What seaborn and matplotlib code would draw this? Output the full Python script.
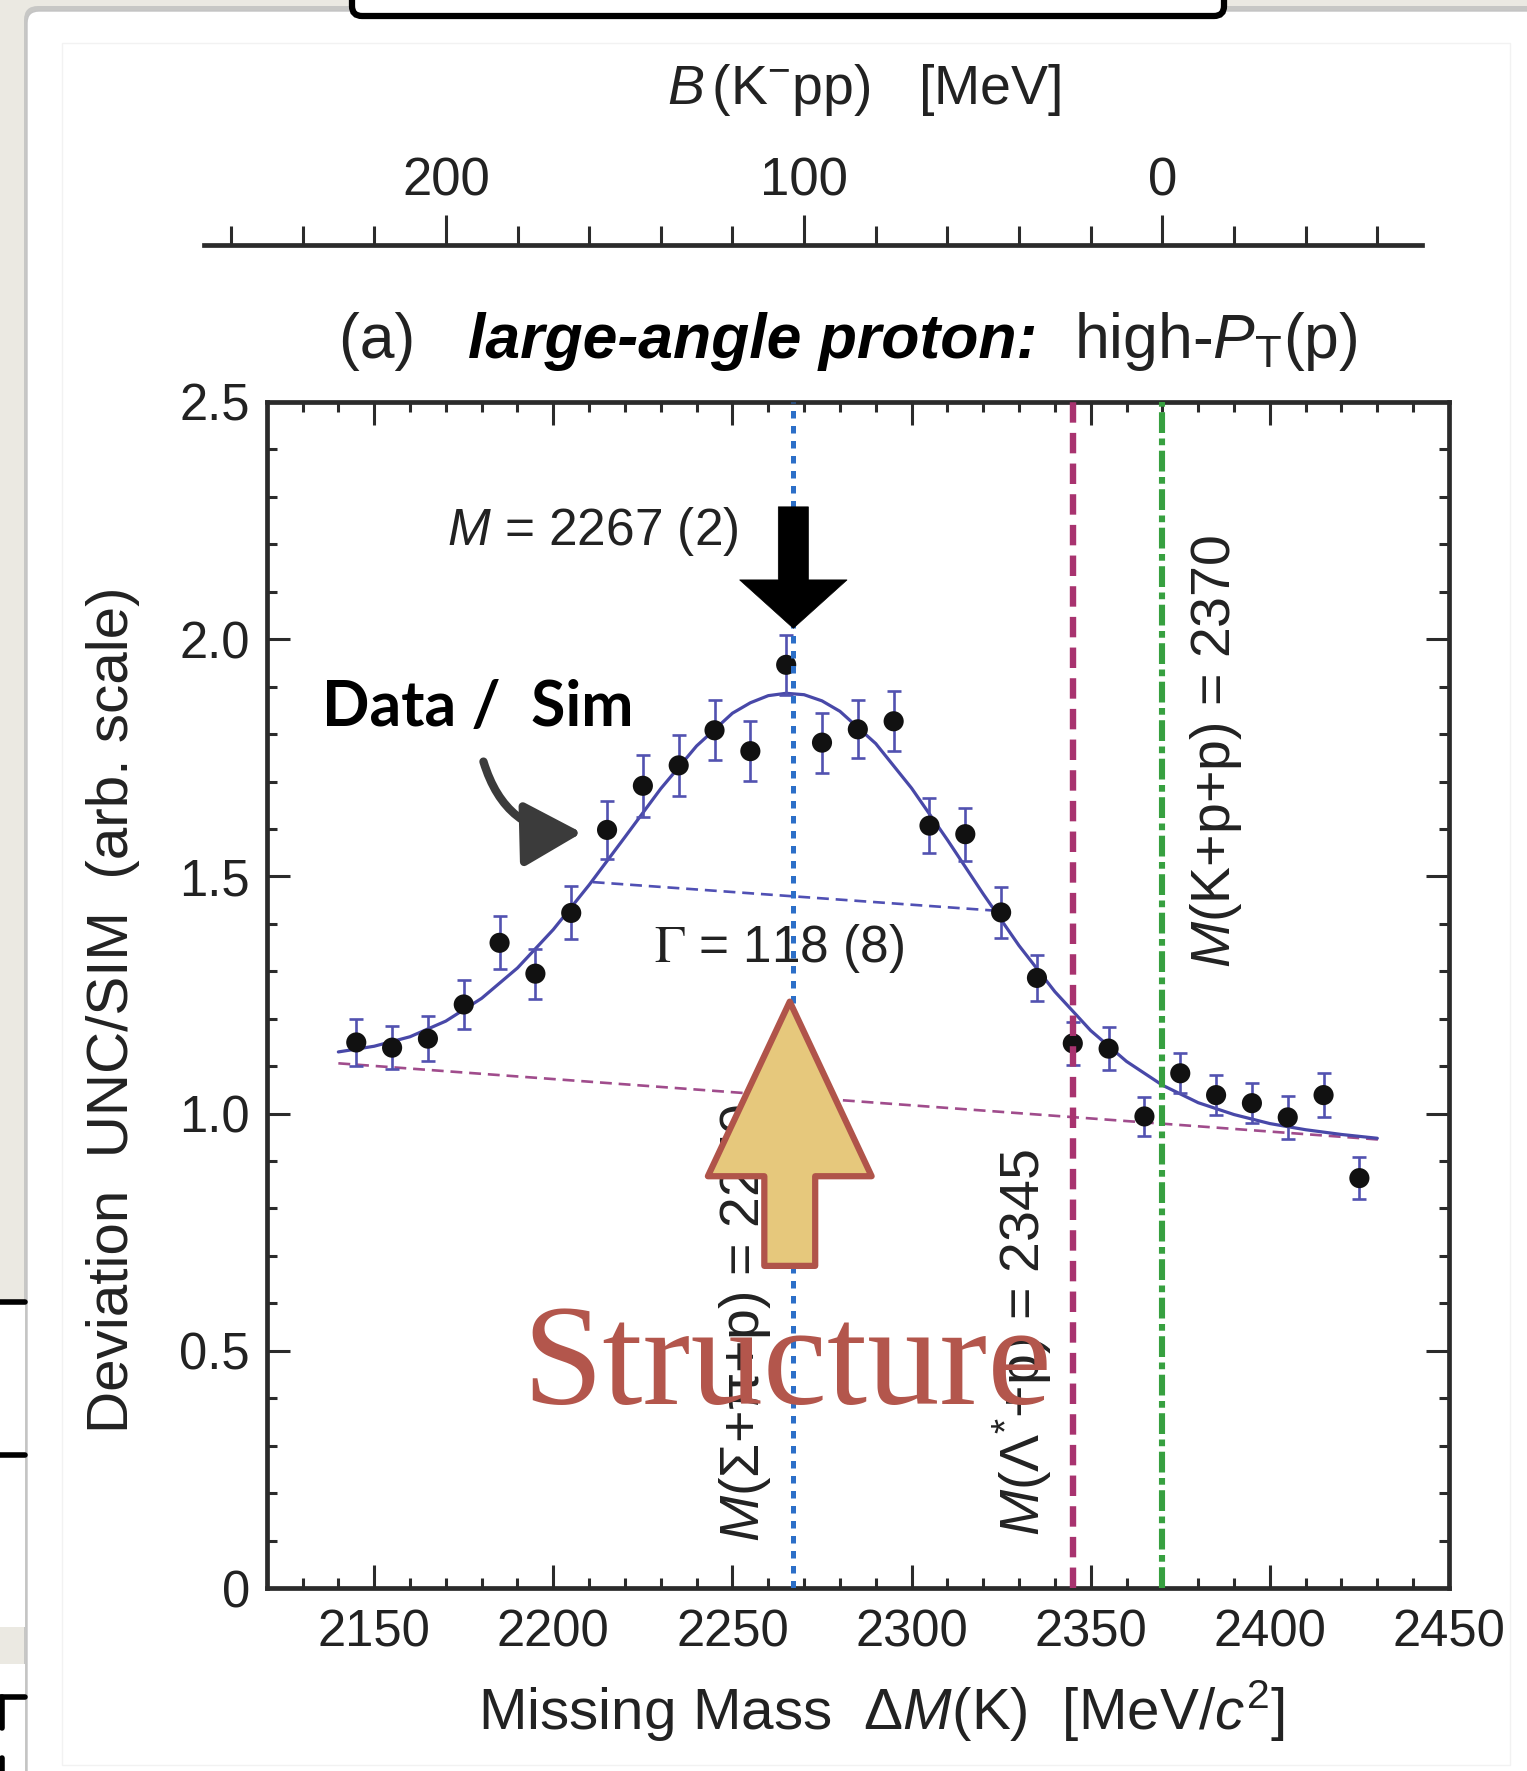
import numpy as np
import pandas as pd
import matplotlib
matplotlib.use("Agg")
import matplotlib.pyplot as plt
import seaborn as sns
from matplotlib.patches import FancyArrow, Rectangle, FancyBboxPatch
from matplotlib.offsetbox import TextArea, HPacker, AnchoredOffsetbox
from matplotlib.ticker import MultipleLocator

# ---------------- data ----------------
mass = [2145, 2155, 2165, 2175, 2185, 2195, 2205, 2215, 2225, 2235,
        2245, 2255, 2265, 2275, 2285, 2295, 2305, 2315, 2325, 2335,
        2345, 2355, 2365, 2375, 2385, 2395, 2405, 2415, 2425]
ratio = [1.150, 1.139, 1.158, 1.230, 1.360, 1.295, 1.423, 1.598, 1.691, 1.734,
         1.808, 1.764, 1.946, 1.782, 1.810, 1.827, 1.607, 1.589, 1.424, 1.286,
         1.148, 1.137, 0.994, 1.085, 1.039, 1.022, 0.992, 1.039, 0.864]
ratio_err = [0.049, 0.046, 0.048, 0.051, 0.056, 0.053, 0.056, 0.061, 0.065, 0.065,
             0.063, 0.063, 0.063, 0.063, 0.061, 0.063, 0.058, 0.056, 0.053, 0.049,
             0.046, 0.046, 0.042, 0.042, 0.042, 0.042, 0.046, 0.047, 0.044]

fit_mass = [2140, 2150, 2160, 2170, 2180, 2190, 2200, 2210, 2220, 2230,
            2240, 2250, 2255, 2260, 2265, 2270, 2275, 2280, 2290, 2300, 2310, 2320,
            2330, 2340, 2350, 2360, 2370, 2380, 2390, 2400, 2410, 2420, 2430]
fit_ratio = [1.130, 1.142, 1.162, 1.195, 1.243, 1.307, 1.388, 1.482, 1.583, 1.685,
             1.775, 1.844, 1.866, 1.881, 1.886, 1.883, 1.870, 1.848, 1.780, 1.686, 1.577, 1.463,
             1.354, 1.257, 1.175, 1.110, 1.060, 1.023, 0.998, 0.979, 0.966, 0.956, 0.948]

bg_mass = [2140, 2431]
bg_ratio = [1.106, 0.945]
halfmax_mass = [2211, 2323]
halfmax_ratio = [1.488, 1.428]

threshold_mass = [2267, 2345, 2370]
threshold_labels = [r"$M$(Σ+π+p) = 2270", r"$M$(Λ$^{*}$+p) = 2345", r"$M$(K+p+p) = 2370"]

kpp_threshold = 2370          # B(K-pp) = 2370 - M
b_ticks = [200, 100, 0]
x_ticks = [2150, 2200, 2250, 2300, 2350, 2400, 2450]
y_ticks = [0, 0.5, 1.0, 1.5, 2.0, 2.5]
y_tick_labels = ["0", "0.5", "1.0", "1.5", "2.0", "2.5"]

# ---------------- style ----------------
sns.set_style("ticks")
plt.rcParams["font.family"] = ["Liberation Sans", "DejaVu Sans"]
plt.rcParams["mathtext.fontset"] = "custom"
plt.rcParams["mathtext.rm"] = "Liberation Sans"
plt.rcParams["mathtext.it"] = "Liberation Sans:italic"
plt.rcParams["mathtext.bf"] = "Liberation Sans:bold"
plt.rcParams["mathtext.sf"] = "Liberation Sans"

INK = "#2b2b2b"
BLUE = "#4848a8"

fig = plt.figure(figsize=(15.27, 17.71), dpi=100)
fig.patch.set_facecolor("#ebe9e2")

# ---------------- slide background decorations ----------------
bgax = fig.add_axes([0, 0, 1, 1], zorder=-10)
bgax.set_xlim(0, 1527)
bgax.set_ylim(1771, 0)
bgax.axis("off")
bgax.add_patch(FancyBboxPatch((24, 6), 1560, 1800, boxstyle="round,pad=0,rounding_size=14",
                              fc="#b9b9b9", ec="none", alpha=0.7))
bgax.add_patch(FancyBboxPatch((27, 11), 1560, 1800, boxstyle="round,pad=0,rounding_size=12",
                              fc="white", ec="#c4c4c4", lw=1))
bgax.add_patch(Rectangle((62, 43), 1448, 1722, fc="none", ec="#f2f2f2", lw=1))
bgax.add_patch(FancyBboxPatch((352, -40), 872, 56, boxstyle="round,pad=0,rounding_size=10",
                              fc="white", ec="black", lw=4.5))
bgax.add_patch(Rectangle((0, 1302), 25, 325, fc="white", ec="none"))
bgax.add_patch(Rectangle((0, 1664), 25, 110, fc="white", ec="none"))
for yy in (1302, 1455, 1697):
    bgax.plot([0, 25], [yy, yy], color="black", lw=4, solid_capstyle="round")
bgax.plot([2, 2], [1697, 1728], color="black", lw=4)
bgax.plot([2, 2], [1758, 1771], color="black", lw=4)

# ---------------- main axes ----------------
ax = fig.add_axes([0.17466, 0.10333, 0.77423, 0.66968])
ax.set_xlim(2120, 2450)
ax.set_ylim(0, 2.5)

df_fit = pd.DataFrame({"mass": fit_mass, "ratio": fit_ratio})
sns.lineplot(data=df_fit, x="mass", y="ratio", ax=ax, color=BLUE, lw=2.3, zorder=3)
ax.plot(bg_mass, bg_ratio, color="#a04c8c", lw=1.9, linestyle=(0, (4.5, 2.6)), zorder=2)
ax.plot(halfmax_mass, halfmax_ratio, color="#5050b4", lw=1.9, linestyle=(0, (4.5, 2.6)), zorder=2)

ax.errorbar(mass, ratio, yerr=ratio_err, fmt="none", ecolor="#5252b0",
            elinewidth=1.9, capsize=4.8, capthick=1.9, zorder=3.5)
df_pts = pd.DataFrame({"mass": mass, "ratio": ratio})
sns.scatterplot(data=df_pts, x="mass", y="ratio", ax=ax, color="#111111", s=210,
                edgecolor="none", zorder=4)

# threshold lines
ax.axvline(threshold_mass[0], color="#2c6fc8", lw=3.6, linestyle=(0, (1.5, 1.5)), zorder=5)
ax.axvline(threshold_mass[1], color="#a8336f", lw=4.6, linestyle=(0, (3.2, 1.6)), zorder=5)
ax.axvline(threshold_mass[2], color="#37a040", lw=4.4, linestyle=(0, (3.4, 0.9, 1.1, 0.9)), zorder=5)

# vertical threshold labels
vt_pos = [(2253.6, 0.097), (2330.9, 0.109), (2385.0, 1.307)]
for (xm, yv), lab in zip(vt_pos, threshold_labels):
    ax.text(xm, yv, lab, rotation=90, ha="center", va="bottom", fontsize=40,
            color="#222222", zorder=4.5)

# annotations
ax.text(2211, 2.228, r"$M$ = 2267 (2)", ha="center", va="center", fontsize=37, color="#222222", zorder=6)
ax.text(2263, 1.349, r"$\Gamma$ = 118 (8)", ha="center", va="center", fontsize=37,
        color="#222222", math_fontfamily="stix", zorder=4.8)

ax.add_patch(FancyArrow(threshold_mass[0], 2.279, 0, -0.256, width=8.4, head_width=30,
                        head_length=0.102, length_includes_head=True,
                        fc="black", ec="black", lw=0.5, zorder=7))

ax.text(2135.4, 1.818, "Data /  Sim", fontsize=45, family=["Lato", "DejaVu Sans"],
        weight="bold", color="black", ha="left", va="baseline", zorder=7)
ax.annotate("", xy=(2208, 1.592), xytext=(2180.5, 1.742),
            arrowprops=dict(arrowstyle="-|>,head_length=0.9,head_width=0.5", lw=6,
                            color="#3b3b3b", connectionstyle="arc3,rad=0.38",
                            mutation_scale=40, shrinkA=0, shrinkB=0), zorder=7)

ax.add_patch(FancyArrow(2266, 0.679, 0, 0.557, width=14.2, head_width=45.7,
                        head_length=0.368, length_includes_head=True,
                        fc="#e6c87c", ec="#b0544a", lw=4.5, joinstyle="round", zorder=8))
ax.text(2265.3, 0.387, "Structure", fontsize=104, family=["Liberation Serif", "DejaVu Serif"],
        color="#b3564c", ha="center", va="baseline", zorder=9)

# axes styling
for sp in ax.spines.values():
    sp.set_linewidth(3.4)
    sp.set_color(INK)
ax.set_xticks(x_ticks)
ax.set_yticks(y_ticks)
ax.set_yticklabels(y_tick_labels)
ax.xaxis.set_minor_locator(MultipleLocator(10))
ax.yaxis.set_minor_locator(MultipleLocator(0.1))
ax.tick_params(which="both", direction="in", top=True, right=True, width=2.2, color=INK)
ax.tick_params(which="major", length=16.5)
ax.tick_params(which="minor", length=7)
ax.tick_params(axis="x", which="major", labelsize=36.5, pad=15, labelcolor="#222222")
ax.tick_params(axis="y", which="major", labelsize=36.5, pad=12, labelcolor="#222222")

ax.set_xlabel(r"Missing Mass  Δ$M$(K)  [MeV/$c^{2}$]", fontsize=42, color="#222222")
ax.xaxis.set_label_coords(0.5196, -0.076)
ax.set_ylabel("Deviation  UNC/SIM  (arb. scale)", fontsize=42, color="#222222")
ax.yaxis.set_label_coords(-0.107, 0.4874)

# ---------------- top B(K-pp) scale ----------------
m_left, m_right = 2102.6, 2442.4
axb = fig.add_axes([0.13392, 0.85, 0.79705, 0.01166])
axb.set_xlim(kpp_threshold - m_left, kpp_threshold - m_right)
axb.set_ylim(0, 1)
axb.patch.set_alpha(0)
for s in ["left", "right", "bottom"]:
    axb.spines[s].set_visible(False)
axb.spines["top"].set_linewidth(3.4)
axb.spines["top"].set_color(INK)
axb.xaxis.tick_top()
axb.set_xticks(b_ticks)
axb.xaxis.set_minor_locator(MultipleLocator(20))
axb.set_yticks([])
axb.tick_params(axis="x", which="major", direction="out", length=21.6, width=2.2,
                color=INK, labelsize=38, pad=6, labelcolor="#222222")
axb.tick_params(axis="x", which="minor", direction="out", length=13.5, width=2.2, color=INK)
axb.xaxis.set_label_position("top")
axb.set_xlabel(r"$B\,$(K$^{-}$pp)   [MeV]", fontsize=40, color="#222222")
axb.xaxis.set_label_coords(0.5419, 8.5)
axb.xaxis.label.set_va("center")

# ---------------- panel title ----------------
fs_t = 45
ta1 = TextArea("(a) ", textprops=dict(fontsize=fs_t, color="#222222"))
ta2 = TextArea("large-angle proton:", textprops=dict(fontsize=fs_t, weight="bold",
                                                       style="italic", color="black"))
ta3 = TextArea(r"high-$P_{\mathrm{T}}$(p)", textprops=dict(fontsize=fs_t, color="#222222"))
title_box = HPacker(children=[ta1, ta2, ta3], align="baseline", pad=0, sep=26)
anch = AnchoredOffsetbox(loc="center", child=title_box, pad=0, borderpad=0, frameon=False,
                         bbox_to_anchor=(0.5553, 0.8072), bbox_transform=fig.transFigure)
fig.add_artist(anch)

fig.savefig("out.png", dpi=100, facecolor=fig.get_facecolor())
